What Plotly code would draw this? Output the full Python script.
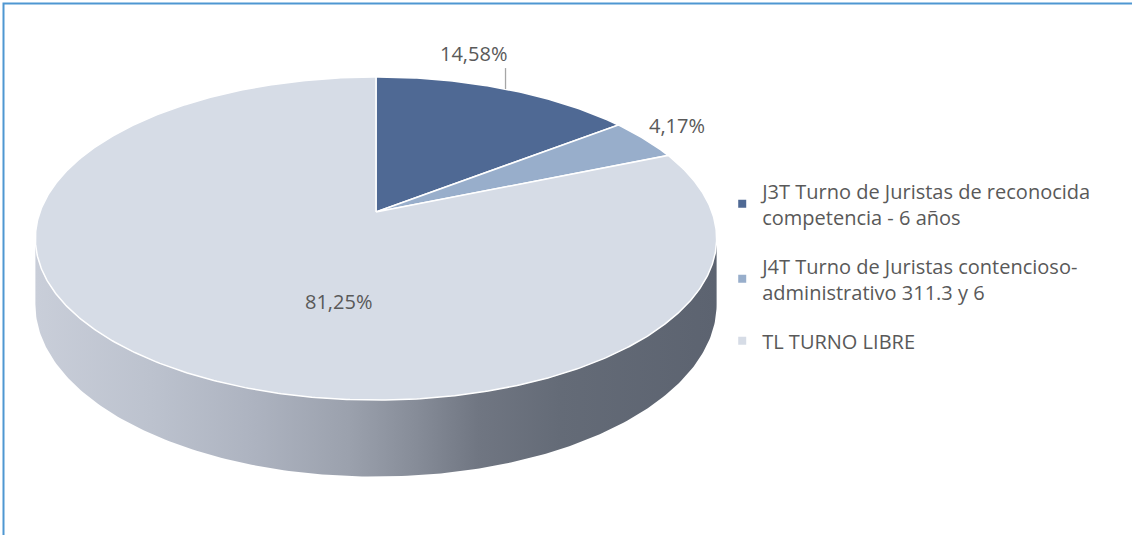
import numpy as np
import plotly.graph_objects as go

# ---- data ----
values = [14.58, 4.17, 81.25]
categories = [
    "J3T Turno de Juristas de reconocida competencia - 6 años",
    "J4T Turno de Juristas contencioso-administrativo 311.3 y 6",
    "TL TURNO LIBRE",
]
legend_names = [
    "J3T Turno de Juristas de reconocida<br>competencia - 6 años",
    "J4T Turno de Juristas contencioso-<br>administrativo 311.3 y 6",
    "TL TURNO LIBRE",
]
colors = ["#4f6994", "#98aecb", "#d6dce6"]

# ---- geometry / style (pixel space) ----
CX, CY = 376.0, 212.0      # pie apex
A, B = 336.0, 157.2        # horizontal / vertical radii
K = 0.164                  # perspective factor
D = 64.0                   # depth of the pie
TEXT = "#595959"
FONT = "Open Sans"
FS = 20


def proj(theta_deg, r=1.0, bottom=False):
    t = np.radians(theta_deg)
    u, v = r * np.sin(t), r * np.cos(t)
    s = 1 + K * v
    x = CX + A * u / s
    y = CY - B * v / s + (D / s if bottom else 0.0)
    return x, y


fig = go.Figure()

# side of the cylinder (front visible part)
th_r = np.degrees(np.arccos(-K))
th_l = 360 - th_r
arc = np.linspace(th_r, th_l, 200)
tx, ty = proj(arc)
bx, by = proj(arc[::-1], bottom=True)
fig.add_trace(go.Scatter(
    x=np.concatenate([tx, bx, tx[:1]]), y=np.concatenate([ty, by, ty[:1]]),
    mode="lines", fill="toself", line=dict(width=0, color="rgba(0,0,0,0)"),
    fillgradient=dict(type="horizontal", colorscale=[
        [0.0, "#c9ced9"], [0.17, "#bcc2ce"], [0.32, "#adb3c0"], [0.46, "#9ba1ad"],
        [0.56, "#868c98"], [0.65, "#707682"], [0.77, "#646b77"], [1.0, "#5c6370"]]),
    hoverinfo="skip", showlegend=False))

# top face slices
total = sum(values)
start = 0.0
mids = []
for val, col in zip(values, colors):
    span = 360.0 * val / total
    n = max(int(span * 2), 4)
    th = np.linspace(start, start + span, n)
    ax, ay = proj(th)
    fig.add_trace(go.Scatter(
        x=np.concatenate([[CX], ax, [CX]]), y=np.concatenate([[CY], ay, [CY]]),
        mode="lines", fill="toself", fillcolor=col,
        line=dict(color="white", width=1.5), hoverinfo="skip", showlegend=False))
    mids.append(start + span / 2)
    start += span

# legend entries
for name, col in zip(legend_names, colors):
    fig.add_trace(go.Scatter(
        x=[None], y=[None], mode="markers", name=name, legendgroup=name,
        marker=dict(symbol="square", size=8, color=col)))

# data labels
label_texts = [f"{v:.2f}%".replace(".", ",") for v in values]
# 14,58% : outside with leader line
lx, ly = proj(mids[0])
fig.add_trace(go.Scatter(x=[lx, lx], y=[ly, ly - 21], mode="lines",
                         line=dict(color="#a6a6a6", width=1.3),
                         hoverinfo="skip", showlegend=False))
fig.add_annotation(x=lx + 3, y=ly - 20, text=label_texts[0], showarrow=False,
                   xanchor="right", yanchor="bottom",
                   font=dict(size=FS, color=TEXT, family=FONT))
# 4,17% : outside
lx, ly = proj(mids[1])
fig.add_annotation(x=lx + 2, y=ly - 14, text=label_texts[1], showarrow=False,
                   xanchor="left", yanchor="middle",
                   font=dict(size=FS, color=TEXT, family=FONT))
# 81,25% : inside
lx, ly = proj(mids[2], r=0.45)
fig.add_annotation(x=lx + 52, y=ly + 27, text=label_texts[2], showarrow=False,
                   xanchor="center", yanchor="middle",
                   font=dict(size=FS, color=TEXT, family=FONT))

# chart border (top & left visible)
fig.add_shape(type="rect", x0=3.5, y0=3.5, x1=1200, y1=600,
              line=dict(color="#4f97d2", width=2), layer="above")

fig.update_layout(
    width=1132, height=535, margin=dict(l=0, r=0, t=0, b=0),
    paper_bgcolor="white", plot_bgcolor="white",
    xaxis=dict(range=[0, 1132], visible=False, fixedrange=True),
    yaxis=dict(range=[535, 0], visible=False, fixedrange=True),
    legend=dict(x=0.638, y=0.68, xanchor="left", yanchor="top",
                font=dict(size=FS, color=TEXT, family=FONT),
                tracegroupgap=20, itemwidth=30, bgcolor="rgba(0,0,0,0)"),
    showlegend=True,
)

fig.write_html("out.html", config={"displayModeBar": False},
               post_script="document.body.style.margin='0';document.body.style.overflow='hidden';")
